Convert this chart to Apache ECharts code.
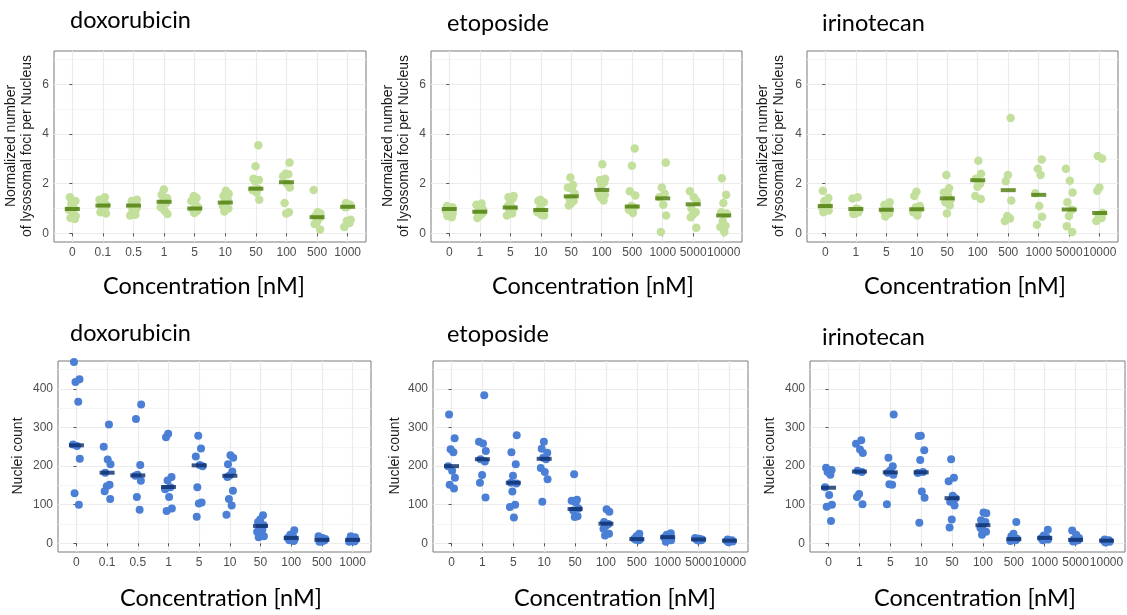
<!DOCTYPE html>
<html>
<head>
<meta charset="utf-8">
<script src="https://cdn.jsdelivr.net/npm/echarts@6/dist/echarts.min.js"></script>
<style>
  html, body { margin: 0; padding: 0; background: #ffffff; }
  #chart { width: 1127px; height: 615px; }
</style>
</head>
<body>
<div id="chart"></div>
<script>
// Drug names and concentration categories (nM)
const drugs = ['doxorubicin', 'etoposide', 'irinotecan'];
const concDox = ['0', '0.1', '0.5', '1', '5', '10', '50', '100', '500', '1000'];
const concEtoIri = ['0', '1', '5', '10', '50', '100', '500', '1000', '5000', '10000'];

// Normalized number of lysosomal foci per nucleus, one list per concentration
const fociDox = [
  [1.45, 1.3, 1.2, 1.0, 0.95, 0.92, 0.7, 0.62, 0.58],
  [1.45, 1.35, 1.25, 1.15, 1.1, 1.05, 0.95, 0.85, 0.8],
  [1.35, 1.3, 1.2, 1.15, 1.1, 1.0, 0.9, 0.75, 0.72],
  [1.77, 1.55, 1.42, 1.3, 1.2, 1.05, 0.9, 0.78],
  [1.5, 1.42, 1.3, 1.2, 1.05, 0.95, 0.9, 0.82],
  [1.72, 1.6, 1.5, 1.35, 1.25, 1.1, 1.0, 0.88],
  [3.55, 2.7, 2.2, 2.15, 2.1, 1.8, 1.75, 1.65, 1.35],
  [2.85, 2.4, 2.38, 2.3, 2.0, 1.85, 1.22, 0.85, 0.8],
  [1.75, 0.85, 0.8, 0.7, 0.62, 0.45, 0.38, 0.15],
  [1.22, 1.15, 1.08, 1.05, 0.55, 0.5, 0.42, 0.25]
];
const fociDoxMedian = [0.98, 1.12, 1.12, 1.27, 1.0, 1.24, 1.8, 2.06, 0.65, 1.07];

const fociEto = [
  [1.1, 1.05, 1.0, 0.95, 0.9, 0.85, 0.8, 0.7, 0.65],
  [1.2, 1.15, 1.05, 0.95, 0.85, 0.8, 0.7, 0.62],
  [1.5, 1.45, 1.4, 1.2, 1.1, 1.0, 0.9, 0.8, 0.72],
  [1.35, 1.3, 1.25, 1.0, 0.9, 0.85, 0.75, 0.72],
  [2.25, 1.95, 1.85, 1.8, 1.6, 1.4, 1.3, 1.2, 1.12],
  [2.78, 2.2, 2.15, 2.05, 1.95, 1.6, 1.55, 1.45, 1.32],
  [3.42, 2.72, 1.7, 1.52, 1.1, 1.05, 0.95, 0.82],
  [2.85, 1.85, 1.6, 1.45, 1.15, 0.72, 0.05],
  [1.7, 1.45, 1.3, 1.0, 0.85, 0.75, 0.65, 0.22],
  [2.22, 1.55, 1.22, 0.85, 0.8, 0.5, 0.3, 0.25, 0.05]
];
const fociEtoMedian = [0.98, 0.87, 1.04, 0.94, 1.49, 1.75, 1.08, 1.41, 1.17, 0.72];

const fociIri = [
  [1.72, 1.42, 1.3, 1.15, 1.05, 1.0, 0.92, 0.85],
  [1.45, 1.4, 1.0, 0.95, 0.9, 0.85, 0.8, 0.78],
  [1.25, 1.15, 1.05, 0.95, 0.9, 0.8, 0.68],
  [1.68, 1.5, 1.1, 1.05, 0.95, 0.85, 0.72],
  [2.35, 1.82, 1.65, 1.55, 1.35, 1.25, 1.12, 0.8],
  [2.93, 2.4, 2.2, 2.0, 1.88, 1.5, 1.38],
  [4.65, 2.35, 2.1, 1.32, 0.7, 0.6, 0.5],
  [2.98, 2.6, 2.35, 1.62, 1.1, 0.67, 0.35],
  [2.6, 2.12, 1.65, 1.25, 0.95, 0.7, 0.28, 0.05],
  [3.12, 3.02, 1.85, 1.72, 0.82, 0.72, 0.62, 0.5]
];
const fociIriMedian = [1.1, 0.98, 0.95, 0.97, 1.41, 2.14, 1.74, 1.55, 0.96, 0.82];

// Nuclei count per well, one list per concentration
const nucleiDox = [
  [470, 425, 418, 367, 256, 252, 219, 130, 100],
  [308, 250, 217, 205, 183, 152, 148, 135, 115],
  [360, 322, 203, 178, 175, 162, 120, 87],
  [284, 275, 172, 163, 145, 140, 120, 90, 84],
  [279, 246, 225, 203, 200, 145, 106, 103, 69],
  [228, 222, 205, 186, 176, 172, 136, 115, 98, 74],
  [73, 62, 55, 47, 42, 35, 30, 22, 18, 16],
  [34, 22, 18, 14, 12, 10, 8, 6],
  [18, 14, 11, 9, 7, 5, 4],
  [18, 16, 13, 10, 9, 7, 5, 4]
];
const nucleiDoxMedian = [254, 183, 176, 146, 202, 175, 45, 14, 9, 9];

const nucleiEto = [
  [334, 272, 244, 236, 200, 188, 170, 152, 142],
  [384, 263, 259, 239, 218, 212, 177, 157, 119],
  [280, 236, 205, 175, 157, 155, 134, 100, 94, 67],
  [263, 245, 235, 222, 218, 195, 185, 166, 108],
  [179, 113, 110, 106, 90, 85, 70, 68],
  [88, 82, 55, 50, 45, 38, 25, 20],
  [25, 18, 12, 10, 9, 8],
  [26, 22, 18, 15, 12, 8, 4],
  [14, 12, 10, 9, 8, 7],
  [10, 8, 7, 6, 5, 3]
];
const nucleiEtoMedian = [200, 218, 157, 219, 89, 51, 11, 16, 10, 7];

const nucleiIri = [
  [196, 190, 185, 178, 145, 125, 100, 95, 58],
  [267, 258, 243, 234, 188, 185, 128, 120, 101],
  [334, 222, 200, 188, 183, 178, 153, 152, 101],
  [279, 278, 241, 216, 185, 182, 134, 118, 53],
  [218, 170, 161, 123, 117, 108, 98, 62, 41],
  [80, 78, 60, 55, 47, 40, 30, 22],
  [55, 25, 18, 12, 10, 8, 6],
  [35, 20, 16, 13, 12, 10, 8],
  [33, 22, 14, 10, 8, 6, 5],
  [10, 8, 7, 6, 4, 2]
];
const nucleiIriMedian = [144, 186, 184, 184, 117, 47, 11, 14, 9, 7];

// Axis ticks
const fociTicks = [0, 2, 4, 6];
const fociMinor = [1, 3, 5, 7];
const nucleiTicks = [0, 100, 200, 300, 400];
const nucleiMinor = [50, 150, 250, 350, 450];

// ---------------------------------------------------------------------------
const chart = echarts.init(document.getElementById('chart'), null, { renderer: 'canvas' });

// horizontal spread of the points around each concentration
const JITTER = [-0.08, 0.1, -0.03, 0.06, -0.11, 0.02, 0.11, -0.06, 0.08, -0.01];

const GREEN_PT = '#c3df9c';
const GREEN_MED = '#4a7a05';
const BLUE_PT = '#4a7fd5';
const BLUE_MED = '#0a2c6a';
const GRID_MAJOR = '#ebebeb';
const GRID_MINOR = '#f3f3f3';
const TICK_TXT = '#4d4d4d';
const TXT_FONT = 'Liberation Sans';
const BIG_FONT = 'Lato';

const panels = [
  { box: [54, 51, 312, 191], cats: concDox, pts: fociDox, med: fociDoxMedian, kind: 'foci' },
  { box: [431, 51, 311, 191], cats: concEtoIri, pts: fociEto, med: fociEtoMedian, kind: 'foci' },
  { box: [807, 51, 311, 191], cats: concEtoIri, pts: fociIri, med: fociIriMedian, kind: 'foci' },
  { box: [58, 361, 313, 191], cats: concDox, pts: nucleiDox, med: nucleiDoxMedian, kind: 'nuclei' },
  { box: [433, 361, 315, 191], cats: concEtoIri, pts: nucleiEto, med: nucleiEtoMedian, kind: 'nuclei' },
  { box: [810, 361, 315, 191], cats: concEtoIri, pts: nucleiIri, med: nucleiIriMedian, kind: 'nuclei' }
];

const grid = [], xAxis = [], yAxis = [], series = [];

panels.forEach((p, i) => {
  const foci = p.kind === 'foci';
  const yMin = foci ? -0.35 : -22.5;
  const yMax = foci ? 7.35 : 472.5;
  const catIdx = p.cats.map((_, k) => k);

  grid.push({
    left: p.box[0], top: p.box[1], width: p.box[2], height: p.box[3],
    show: true, borderColor: '#7a7a7a', borderWidth: 1, backgroundColor: '#ffffff'
  });

  xAxis.push({
    type: 'value', gridIndex: i, min: -0.6, max: 9.6,
    axisLine: { show: false },
    axisTick: { show: true, customValues: catIdx, length: 3, lineStyle: { color: '#555555', width: 1 } },
    axisLabel: {
      customValues: catIdx, margin: 5, color: TICK_TXT, fontSize: 12, fontFamily: TXT_FONT,
      formatter: v => p.cats[Math.round(v)]
    },
    splitLine: { show: true, lineStyle: { color: GRID_MAJOR, width: 1.2 } }
  });

  // main y axis: labelled major ticks
  yAxis.push({
    type: 'value', gridIndex: i, min: yMin, max: yMax,
    axisLine: { show: false },
    axisTick: { show: true, customValues: foci ? fociTicks : nucleiTicks, length: 3, lineStyle: { color: '#555555', width: 1 } },
    axisLabel: { customValues: foci ? fociTicks : nucleiTicks, margin: 5, color: TICK_TXT, fontSize: 12, fontFamily: TXT_FONT },
    splitLine: { show: true, lineStyle: { color: GRID_MAJOR, width: 1.2 } }
  });
  // companion y axis carrying the minor grid lines
  yAxis.push({
    type: 'value', gridIndex: i, min: yMin, max: yMax,
    axisLine: { show: false },
    axisTick: { show: false, customValues: foci ? fociMinor : nucleiMinor },
    axisLabel: { show: false, customValues: foci ? fociMinor : nucleiMinor },
    splitLine: { show: true, lineStyle: { color: GRID_MINOR, width: 0.8 } }
  });

  const yIndex = i * 2;
  const points = [];
  p.pts.forEach((vals, ci) => {
    vals.forEach((v, k) => {
      points.push([ci + JITTER[(k + ci * 3) % JITTER.length], v]);
    });
  });

  series.push({
    type: 'scatter', xAxisIndex: i, yAxisIndex: yIndex,
    symbol: 'circle', symbolSize: foci ? 8.5 : 8,
    itemStyle: { color: foci ? GREEN_PT : BLUE_PT, opacity: 1 },
    data: points, silent: true, z: 2, clip: true
  });
  series.push({
    type: 'scatter', xAxisIndex: i, yAxisIndex: yIndex,
    symbol: 'rect', symbolSize: [15, 4],
    itemStyle: { color: foci ? GREEN_MED : BLUE_MED },
    data: p.med.map((m, ci) => [ci, m]), silent: true, z: 3
  });
});

// panel titles, axis titles
const graphic = [];
const titlePos = [
  [70, 20], [447, 23], [822, 23],
  [70, 333], [447, 334], [822, 337]
];
titlePos.forEach((pos, i) => {
  graphic.push({
    type: 'text', x: pos[0], y: pos[1],
    style: { text: drugs[i % 3], font: '23.5px ' + BIG_FONT, fill: '#000000', textAlign: 'left', textVerticalAlign: 'middle' }
  });
});

const xNamePos = [[204, 286], [593, 286], [965, 286], [221, 598], [615, 598], [975, 598]];
xNamePos.forEach(pos => {
  graphic.push({
    type: 'text', x: pos[0], y: pos[1],
    style: { text: 'Concentration [nM]', font: '23.5px ' + BIG_FONT, fill: '#000000', textAlign: 'center', textVerticalAlign: 'middle' }
  });
});

const yNamePos = [[19, 146], [396, 146], [771, 146], [18, 456], [395, 456], [770, 456]];
yNamePos.forEach((pos, i) => {
  const foci = i < 3;
  graphic.push({
    type: 'text', x: pos[0], y: pos[1], rotation: Math.PI / 2,
    style: {
      text: foci ? 'Normalized number\nof lysosomal foci per Nucleus' : 'Nuclei count',
      font: '14px ' + TXT_FONT, fill: '#1a1a1a', textAlign: 'center', textVerticalAlign: 'middle',
      lineHeight: 16
    }
  });
});

chart.setOption({
  animation: false,
  backgroundColor: '#ffffff',
  grid, xAxis, yAxis, series, graphic
});
</script>
</body>
</html>
